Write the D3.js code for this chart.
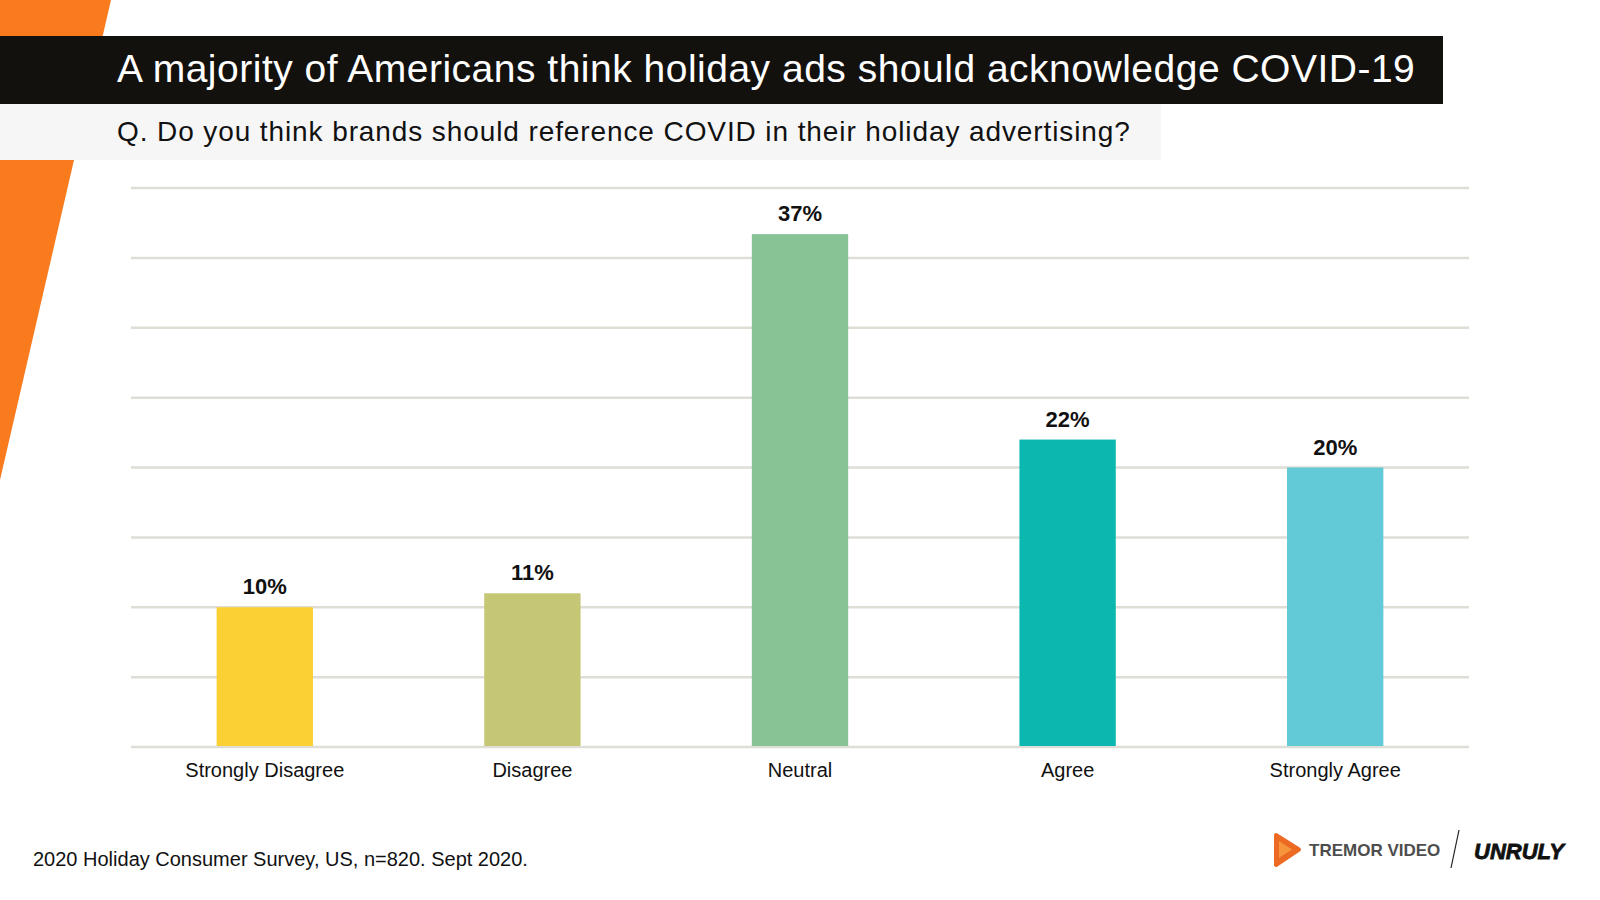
<!DOCTYPE html>
<html lang="en">
	<head>
		<meta charset="UTF-8">
		<title>Holiday ads and COVID-19</title>
		<script src="https://cdnjs.cloudflare.com/ajax/libs/d3/7.8.5/d3.min.js"></script>
		<style>
			body { margin: 0; background: #fff; }
			text { font-family: "Liberation Sans", Arial, sans-serif; }
		</style>
		<script>
var categories = ["Strongly Disagree", "Disagree", "Neutral", "Agree", "Strongly Agree"];
var values = [10, 11, 36.7, 22, 20];
var barColors = ["#fbd035", "#c5c774", "#87c395", "#0bb8b0", "#62c9d6"];
var title = "A majority of Americans think holiday ads should acknowledge COVID-19";
var question = "Q. Do you think brands should reference COVID in their holiday advertising?";
var source = "2020 Holiday Consumer Survey, US, n=820. Sept 2020.";

function makeChart() {
	var svg = d3.select("svg");
	var data = categories.map((c, i) => ({ cat: c, val: values[i] }));
	var fmt = d3.format(".0f");

	// slide decoration
	svg.append("path").attr("d", "M0,0 L111,0 L0,480 Z").attr("fill", "#fa7a1e");

	svg.append("rect").attr("x", 0).attr("y", 36).attr("width", 1443).attr("height", 68).attr("fill", "#13110e");
	svg.append("text").attr("x", 117).attr("y", 82).attr("fill", "#fff")
		.attr("font-size", 39).attr("letter-spacing", 0.5).text(title);

	svg.append("rect").attr("x", 0).attr("y", 104).attr("width", 1161).attr("height", 56).attr("fill", "#f6f6f6");
	svg.append("text").attr("x", 117).attr("y", 141).attr("fill", "#111")
		.attr("font-size", 28).attr("letter-spacing", 0.9).text(question);

	// chart
	var left = 131, right = 1469, top = 188, bottom = 747;

	var scX = d3.scaleBand().domain(categories).range([left, right])
		.paddingInner(0.64).paddingOuter(0.32);
	var scY = d3.scaleLinear().domain([0, 40]).range([bottom, top]);
	var scC = d3.scaleOrdinal().domain(categories).range(barColors);

	svg.append("g").selectAll("line").data(scY.ticks(8)).enter()
		.append("line")
		.attr("x1", left).attr("x2", right)
		.attr("y1", d => scY(d)).attr("y2", d => scY(d))
		.attr("stroke", "#deded7").attr("stroke-width", 2.5);

	svg.append("g").selectAll("rect").data(data).enter()
		.append("rect")
		.attr("x", d => scX(d.cat))
		.attr("width", scX.bandwidth())
		.attr("y", d => scY(d.val))
		.attr("height", d => bottom - 1 - scY(d.val))
		.attr("fill", d => scC(d.cat));

	svg.append("g").selectAll("text").data(data).enter()
		.append("text")
		.attr("x", d => scX(d.cat) + scX.bandwidth() / 2)
		.attr("y", d => scY(d.val) - 13)
		.attr("text-anchor", "middle")
		.attr("font-size", 22).attr("font-weight", "bold").attr("fill", "#111")
		.text(d => fmt(d.val) + "%");

	// category axis, labels only
	var axMkr = d3.axisBottom(scX).tickSize(0).tickPadding(16);
	var ax = svg.append("g").attr("transform", `translate(0,${bottom})`).call(axMkr);
	ax.select(".domain").remove();
	ax.selectAll("text").attr("font-size", 20).attr("fill", "#111")
		.style("font-family", "'Liberation Sans', Arial, sans-serif");

	svg.append("text").attr("x", 33).attr("y", 866).attr("fill", "#111")
		.attr("font-size", 20).text(source);

	// logos
	var logo = svg.append("g");
	logo.append("path").attr("d", "M1276,835 L1299,849.5 L1276,865 Z")
		.attr("fill", "#ec6a23").attr("stroke", "#ec6a23").attr("stroke-width", 4).attr("stroke-linejoin", "round");
	logo.append("path").attr("d", "M1279,841 L1292,849.5 L1279,858 Z").attr("fill", "#f7953c");
	logo.append("text").attr("x", 1309).attr("y", 856).attr("fill", "#4d4d4d")
		.attr("font-size", 17).attr("font-weight", "bold").text("TREMOR VIDEO");
	logo.append("line").attr("x1", 1459).attr("y1", 830).attr("x2", 1451).attr("y2", 868)
		.attr("stroke", "#222").attr("stroke-width", 1.2);
	logo.append("text").attr("x", 1474).attr("y", 859).attr("fill", "#111")
		.attr("stroke", "#111").attr("stroke-width", 0.8)
		.attr("font-size", 22).attr("font-weight", "bold").attr("font-style", "italic").text("UNRULY");
}
		</script>
	</head>
	<body onload="makeChart()">
		<svg width="1600" height="900"></svg>
	</body>
</html>
